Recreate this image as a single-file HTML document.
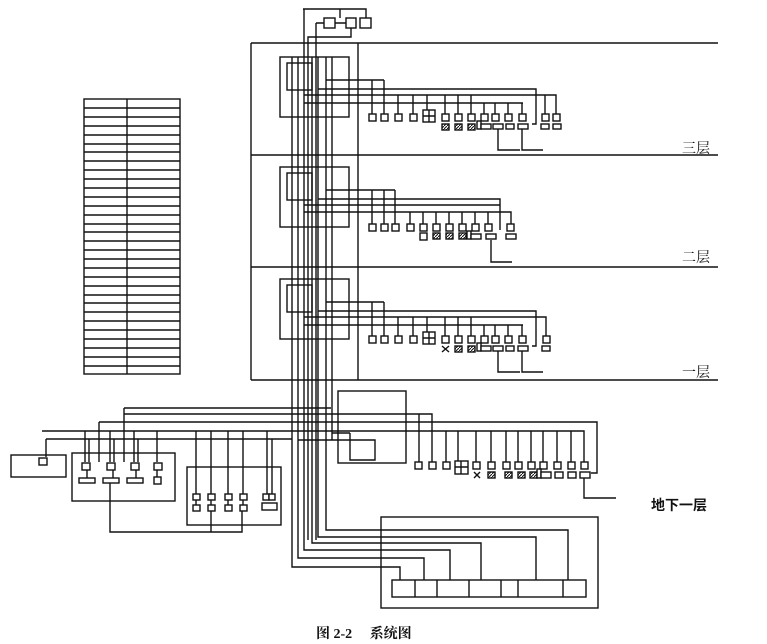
<!DOCTYPE html>
<html><head><meta charset="utf-8"><style>
html,body{margin:0;padding:0;background:#fff;width:767px;height:644px;overflow:hidden}
svg{display:block}
.l{fill:none;stroke:#111;stroke-width:1.4}
.b{fill:#fff;stroke:#111;stroke-width:1.4}
text{font-family:"Liberation Serif","Noto Serif CJK SC","Noto Sans CJK SC",serif;fill:#111}
</style></head><body>
<svg width="767" height="644" viewBox="0 0 767 644">
<defs>
<pattern id="hp" width="3" height="3" patternUnits="userSpaceOnUse"><rect width="3" height="3" fill="#fff"/><path d="M0 3L3 0" stroke="#111" stroke-width="1"/></pattern>
</defs>
<g class="l">
<rect x="84" y="99" width="96" height="275"/>
<path d="M127 99V374"/>
<path d="M84 108H180M84 117H180M84 126H180M84 135H180M84 144H180M84 152H180M84 161H180M84 170H180M84 179H180M84 188H180M84 197H180M84 206H180M84 215H180M84 224H180M84 232H180M84 241H180M84 250H180M84 259H180M84 268H180M84 277H180M84 286H180M84 295H180M84 303H180M84 312H180M84 321H180M84 330H180M84 339H180M84 348H180M84 357H180M84 366H180"/>
</g>
<g class="l">
<path d="M251 43H718M251 155H718M251 267H718M251 380H718M251 43V380M358 43V380"/>
<path d="M303 9H366V18M316 23H324M335 23H346M316 23V540M351 28V37H308V540M340 9V18"/>
<path d="M292 57V567H400V580M298 57V558H424V580M304 9V550H450V580M312 57V543H481V580M318 57V537H536V580M326 57V530H568V580M332 57V440"/>
</g>
<rect class="b" x="324" y="18" width="11" height="10"/>
<rect class="b" x="346" y="18" width="10" height="10"/>
<rect class="b" x="360" y="18" width="11" height="10"/>

<g id="f3">
<g class="l">
<rect x="280" y="57" width="69" height="60"/>
<rect x="287" y="63" width="25" height="27"/>
<path d="M326 80H384M372 80V114M384 80V114"/>
<path d="M318 89H536V124H532"/>
<path d="M304 95H556V114M398 95V114M413 95V114M427 95V110M445 95V114M458 95V114M471 95V114M545 95V114"/>
<path d="M304 103H523M484 103V114M495 103V114M508 103V114M522 103V114"/>
<path d="M498 129V150H520M522 129V150H543"/>
</g>
<g class="b">
<rect x="369" y="114" width="7" height="7"/><rect x="381" y="114" width="7" height="7"/><rect x="395" y="114" width="7" height="7"/><rect x="410" y="114" width="7" height="7"/>
<rect x="423" y="110" width="12" height="12"/>
<rect x="442" y="114" width="7" height="7"/><rect x="455" y="114" width="7" height="7"/><rect x="468" y="114" width="7" height="7"/><rect x="481" y="114" width="7" height="7"/><rect x="492" y="114" width="7" height="7"/><rect x="505" y="114" width="7" height="7"/><rect x="519" y="114" width="7" height="7"/><rect x="542" y="114" width="7" height="7"/><rect x="553" y="114" width="7" height="7"/>
<rect x="442" y="124" width="7" height="6" fill="url(#hp)"/><rect x="455" y="124" width="7" height="6" fill="url(#hp)"/><rect x="468" y="124" width="7" height="6" fill="url(#hp)"/>
<rect x="477" y="121" width="4" height="8"/>
<rect x="481" y="124" width="10" height="5"/><rect x="493" y="124" width="10" height="5"/><rect x="506" y="124" width="8" height="5"/><rect x="518" y="124" width="10" height="5"/><rect x="541" y="124" width="8" height="5"/><rect x="553" y="124" width="8" height="5"/>
</g>
<path class="l" d="M423 116H435M429 110V122"/>
</g>

<g>
<g class="l">
<rect x="280" y="167" width="69" height="60"/>
<rect x="287" y="173" width="25" height="27"/>
<path d="M326 190H395M372 190V224M384 190V224M395 190V224"/>
<path d="M318 199H500V230"/>
<path d="M304 205H500"/>
<path d="M304 212H511V224M410 212V224M423 212V224M436 212V224M449 212V224M462 212V224M475 212V224M488 212V224"/>
<path d="M491 240V262H512"/>
</g>
<g class="b">
<rect x="369" y="224" width="7" height="7"/><rect x="381" y="224" width="7" height="7"/><rect x="392" y="224" width="7" height="7"/><rect x="407" y="224" width="7" height="7"/><rect x="420" y="224" width="7" height="7"/><rect x="433" y="224" width="7" height="7"/><rect x="446" y="224" width="7" height="7"/><rect x="459" y="224" width="7" height="7"/><rect x="472" y="224" width="7" height="7"/><rect x="485" y="224" width="7" height="7"/><rect x="507" y="224" width="7" height="7"/>
<rect x="420" y="233" width="7" height="7"/>
<rect x="433" y="233" width="7" height="6" fill="url(#hp)"/><rect x="446" y="233" width="7" height="6" fill="url(#hp)"/><rect x="459" y="233" width="7" height="6" fill="url(#hp)"/>
<rect x="467" y="231" width="4" height="8"/>
<rect x="471" y="234" width="10" height="5"/><rect x="486" y="234" width="10" height="5"/><rect x="506" y="234" width="10" height="5"/>
</g>
</g>

<g transform="translate(0,222)">
<g class="l">
<rect x="280" y="57" width="69" height="60"/>
<rect x="287" y="63" width="25" height="27"/>
<path d="M326 80H384M372 80V114M384 80V114"/>
<path d="M318 89H536V124H532"/>
<path d="M304 95H546V114M398 95V114M413 95V114M427 95V110M445 95V114M458 95V114M471 95V114"/>
<path d="M304 103H523M484 103V114M495 103V114M508 103V114M522 103V114"/>
<path d="M498 129V150H520M522 129V150H543"/>
</g>
<g class="b">
<rect x="369" y="114" width="7" height="7"/><rect x="381" y="114" width="7" height="7"/><rect x="395" y="114" width="7" height="7"/><rect x="410" y="114" width="7" height="7"/>
<rect x="423" y="110" width="12" height="12"/>
<rect x="442" y="114" width="7" height="7"/><rect x="455" y="114" width="7" height="7"/><rect x="468" y="114" width="7" height="7"/><rect x="481" y="114" width="7" height="7"/><rect x="492" y="114" width="7" height="7"/><rect x="505" y="114" width="7" height="7"/><rect x="519" y="114" width="7" height="7"/><rect x="543" y="114" width="7" height="7"/>
<rect x="455" y="124" width="7" height="6" fill="url(#hp)"/><rect x="468" y="124" width="7" height="6" fill="url(#hp)"/>
<rect x="477" y="121" width="4" height="8"/>
<rect x="481" y="124" width="10" height="5"/><rect x="493" y="124" width="10" height="5"/><rect x="506" y="124" width="8" height="5"/><rect x="518" y="124" width="10" height="5"/><rect x="542" y="124" width="8" height="5"/>
</g>
<path class="l" d="M423 116H435M429 110V122M442 124L449 130M449 124L442 130"/>
</g>

<g class="l">
<rect x="338" y="391" width="68" height="72"/>
<path d="M350 433V460H375V440H298M350 433H332"/>
<path d="M124 408H331M124 408V462M124 414H432V465M419 414V465"/>
<path d="M99 422H597V473H591M99 422V462"/>
<path d="M42 431H584V465M85 431V462M110 431V462M134 431V462M157 431V462M196 431V494M211 431V494M228 431V494M243 431V494M267 431V494M446 431V462M458 431V462M476 431V462M491 431V462M506 431V462M518 431V462M531 431V462M543 431V462M557 431V462M571 431V462"/>
<path d="M46 439H292M46 439V457M89 439V462M114 439V462M138 439V462M272 439V494"/>
<path d="M584 478V498H616"/>
<rect x="11" y="455" width="55" height="22"/>
<rect x="72" y="453" width="103" height="48"/>
<rect x="187" y="467" width="94" height="58"/>
<path d="M110 483V532H242V511M211 511V532"/>
<path d="M87 470V478M113 470V478M136 470V478M157 470V478"/>
<path d="M196 500V505M211 500V505M228 500V505M243 500V505"/>
<rect x="381" y="517" width="217" height="91"/>
<rect x="392" y="580" width="194" height="17"/>
<path d="M415 580V597M437 580V597M469 580V597M501 580V597M518 580V597M563 580V597"/>
</g>
<g class="b">
<rect x="39" y="458" width="8" height="7"/>
<rect x="82" y="463" width="8" height="7"/><rect x="107" y="463" width="8" height="7"/><rect x="131" y="463" width="8" height="7"/><rect x="154" y="463" width="8" height="7"/>
<rect x="79" y="478" width="16" height="5"/><rect x="103" y="478" width="16" height="5"/><rect x="127" y="478" width="16" height="5"/><rect x="154" y="477" width="7" height="7"/>
<rect x="193" y="494" width="7" height="6"/><rect x="208" y="494" width="7" height="6"/><rect x="225" y="494" width="7" height="6"/><rect x="240" y="494" width="7" height="6"/><rect x="263" y="494" width="6" height="6"/><rect x="269" y="494" width="6" height="6"/>
<rect x="193" y="505" width="7" height="6"/><rect x="208" y="505" width="7" height="6"/><rect x="225" y="505" width="7" height="6"/><rect x="240" y="505" width="7" height="6"/><rect x="262" y="503" width="15" height="7"/>
<rect x="415" y="462" width="7" height="7"/><rect x="429" y="462" width="7" height="7"/><rect x="443" y="462" width="7" height="7"/>
<rect x="455" y="461" width="13" height="13"/>
<rect x="473" y="462" width="7" height="7"/><rect x="488" y="462" width="7" height="7"/><rect x="503" y="462" width="7" height="7"/><rect x="515" y="462" width="7" height="7"/><rect x="528" y="462" width="7" height="7"/><rect x="540" y="462" width="7" height="7"/><rect x="554" y="462" width="7" height="7"/><rect x="568" y="462" width="7" height="7"/><rect x="581" y="462" width="7" height="7"/>
<rect x="488" y="472" width="7" height="6" fill="url(#hp)"/><rect x="505" y="472" width="7" height="6" fill="url(#hp)"/><rect x="518" y="472" width="7" height="6" fill="url(#hp)"/><rect x="530" y="472" width="7" height="6" fill="url(#hp)"/>
<rect x="537" y="469" width="4" height="9"/>
<rect x="541" y="472" width="10" height="6"/><rect x="555" y="472" width="8" height="6"/><rect x="568" y="472" width="8" height="6"/><rect x="580" y="472" width="10" height="6"/>
</g>
<path class="l" d="M455 467H468M461 461V474M474 472L480 478M480 472L474 478"/>

<text x="682" y="153" font-size="14">三层</text>
<text x="682" y="262" font-size="14">二层</text>
<text x="682" y="377" font-size="14">一层</text>
<text x="651" y="510" font-size="14" font-weight="bold" style='font-family:"Liberation Sans","Noto Sans CJK SC",sans-serif'>地下一层</text>
<text x="316" y="638" font-size="14" font-weight="bold">图 2-2　 系统图</text>
</svg>
</body></html>
